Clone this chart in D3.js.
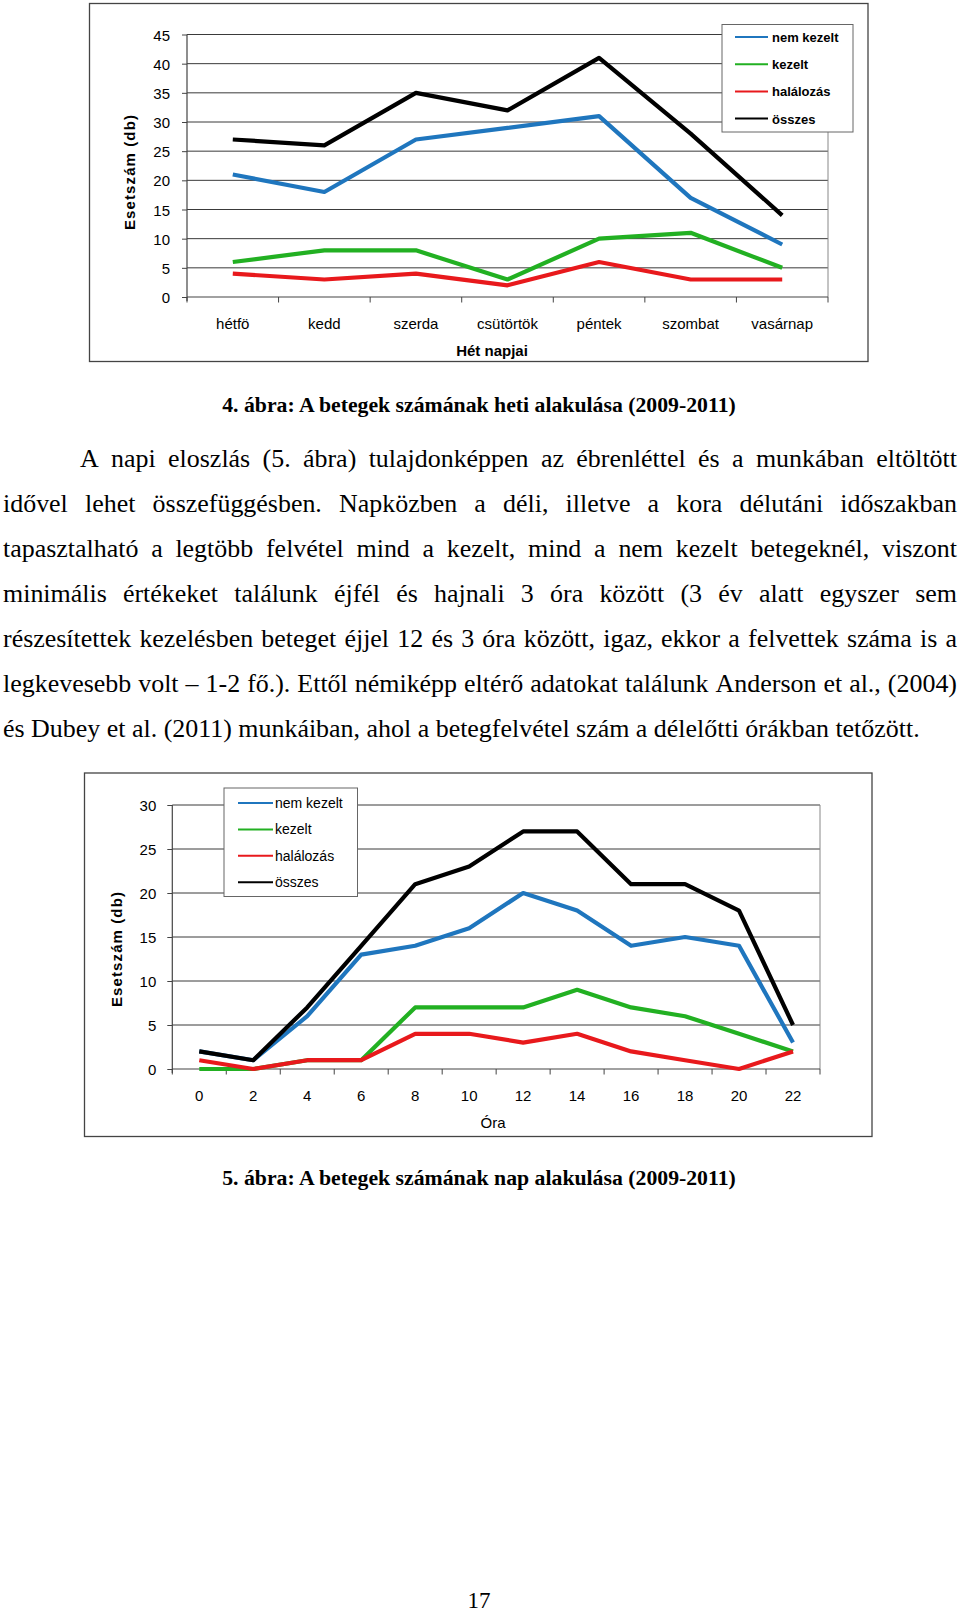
<!DOCTYPE html>
<html><head><meta charset="utf-8">
<script src="https://cdn.jsdelivr.net/npm/d3@7"></script>
<style>body{margin:0;background:#fff} svg{display:block}</style>
</head><body>
<svg id="page" width="960" height="1615"></svg>
<script>
// ---------- DATA ----------
const days = ["hétfö","kedd","szerda","csütörtök","péntek","szombat","vasárnap"];
const weekNemKezelt = [21,18,27,29,31,17,9];
const weekKezelt    = [6,8,8,3,10,11,5];
const weekHalalozas = [4,3,4,2,6,3,3];
const weekOsszes    = [27,26,35,32,41,28,14];
const weekYTicks    = [0,5,10,15,20,25,30,35,40,45];

const hours = ["0","2","4","6","8","10","12","14","16","18","20","22"];
const hourNemKezelt = [2,1,6,13,14,16,20,18,14,15,14,3];
const hourKezelt    = [0,0,1,1,7,7,7,9,7,6,4,2];
const hourHalalozas = [1,0,1,1,4,4,3,4,2,1,0,2];
const hourOsszes    = [2,1,7,14,21,23,27,27,21,21,18,5];
const hourYTicks    = [0,5,10,15,20,25,30];

const seriesNames = ["nem kezelt","kezelt","halálozás","összes"];
const seriesColors = ["#1f76be","#22b022","#e8191c","#000000"];

const caption1 = "4. ábra: A betegek számának heti alakulása (2009-2011)";
const caption2 = "5. ábra: A betegek számának nap alakulása (2009-2011)";
const bodyLines = [
  "A napi eloszlás (5. ábra) tulajdonképpen az ébrenléttel és a munkában eltöltött",
  "idővel lehet összefüggésben. Napközben a déli, illetve a kora délutáni időszakban",
  "tapasztalható a legtöbb felvétel mind a kezelt, mind a nem kezelt betegeknél, viszont",
  "minimális értékeket találunk éjfél és hajnali 3 óra között (3 év alatt egyszer sem",
  "részesítettek kezelésben beteget éjjel 12 és 3 óra között, igaz, ekkor a felvettek száma is a",
  "legkevesebb volt – 1-2 fő.). Ettől némiképp eltérő adatokat találunk Anderson et al., (2004)",
  "és Dubey et al. (2011) munkáiban, ahol a betegfelvétel szám a délelőtti órákban tetőzött."
];
const pageNumber = "17";

// ---------- DRAW ----------
const svg = d3.select("#page");
const SANS = "'Liberation Sans', Arial, sans-serif";
const SERIF = "'Liberation Serif', 'Times New Roman', serif";

function drawChart(c) {
  const g = svg.append("g");
  g.append("rect").attr("x", c.frame[0]).attr("y", c.frame[1])
    .attr("width", c.frame[2]-c.frame[0]).attr("height", c.frame[3]-c.frame[1])
    .attr("fill", "#fff").attr("stroke", "#444").attr("stroke-width", 1.3);

  const x = d3.scaleBand().domain(c.cats).range([c.x0, c.x1]);
  const y = d3.scaleLinear().domain([0, d3.max(c.yTicks)]).range([c.y0, c.y1]);

  // gridlines
  g.selectAll(".grid").data(c.yTicks.filter(v => v > 0)).join("line")
    .attr("x1", c.x0).attr("x2", c.x1).attr("y1", d => y(d)).attr("y2", d => y(d))
    .attr("stroke", "#3a3a3a").attr("stroke-width", 1);
  // right border of plot
  g.append("line").attr("x1", c.x1).attr("x2", c.x1).attr("y1", y(d3.max(c.yTicks))).attr("y2", c.y0)
    .attr("stroke", "#888").attr("stroke-width", 1);

  // y axis
  const ya = d3.axisLeft(y).tickValues(c.yTicks).tickSize(5).tickPadding(c.yPad);
  const yg = g.append("g").attr("transform", `translate(${c.x0},0)`).call(ya);
  yg.select(".domain").remove();
  yg.selectAll(".tick line").attr("stroke", "#444");
  yg.selectAll(".tick text").attr("font-family", SANS).attr("font-size", 15)
    .attr("fill", "#000").attr("dy", 5.5);
  g.append("line").attr("x1", c.x0).attr("x2", c.x0).attr("y1", y(d3.max(c.yTicks))).attr("y2", c.y0 + 4)
    .attr("stroke", "#444").attr("stroke-width", 1.2);

  // x axis
  g.append("line").attr("x1", c.x0).attr("x2", c.x1).attr("y1", c.y0).attr("y2", c.y0)
    .attr("stroke", "#444").attr("stroke-width", 1.2);
  const bounds = c.cats.map(d => x(d)).concat([x(c.cats[c.cats.length-1]) + x.bandwidth()]);
  g.selectAll(".xt").data(bounds).join("line")
    .attr("x1", d => d).attr("x2", d => d).attr("y1", c.y0).attr("y2", c.y0 + 5.5)
    .attr("stroke", "#444").attr("stroke-width", 1);
  g.selectAll(".xl").data(c.cats).join("text")
    .attr("x", d => x(d) + x.bandwidth()/2).attr("y", c.xLabelY)
    .attr("text-anchor", "middle").attr("font-family", SANS).attr("font-size", 15)
    .attr("fill", "#000").text(d => d);

  // axis titles
  g.append("text").attr("x", c.xTitle[0]).attr("y", c.xTitle[1]).attr("text-anchor", "middle")
    .attr("font-family", SANS).attr("font-size", 15).attr("font-weight", c.xTitleBold ? "bold" : "normal")
    .attr("fill", "#000").text(c.xTitleText);
  g.append("text").attr("transform", `translate(${c.yTitle[0]},${c.yTitle[1]}) rotate(-90)`)
    .attr("text-anchor", "middle").attr("font-family", SANS).attr("font-size", 15)
    .attr("font-weight", "bold").attr("letter-spacing", 1.1).attr("fill", "#000")
    .text("Esetszám (db)");

  // lines
  const line = d3.line().x((d, i) => x(c.cats[i]) + x.bandwidth()/2).y(d => y(d));
  c.series.forEach((s, i) => {
    g.append("path").attr("d", line(s)).attr("fill", "none")
      .attr("stroke", seriesColors[i]).attr("stroke-width", 4.2)
      .attr("stroke-linejoin", "round").attr("stroke-linecap", "butt");
  });

  // legend
  const L = c.legend;
  g.append("rect").attr("x", L.box[0]).attr("y", L.box[1]).attr("width", L.box[2]-L.box[0])
    .attr("height", L.box[3]-L.box[1]).attr("fill", "#fff").attr("stroke", "#666").attr("stroke-width", 1);
  seriesNames.forEach((n, i) => {
    const yy = L.y + i * L.step;
    g.append("line").attr("x1", L.lx0).attr("x2", L.lx1).attr("y1", yy).attr("y2", yy)
      .attr("stroke", seriesColors[i]).attr("stroke-width", 2);
    g.append("text").attr("x", L.tx).attr("y", yy + 5).attr("font-family", SANS)
      .attr("font-size", L.fs).attr("font-weight", L.bold ? "bold" : "normal").attr("fill", "#000").text(n);
  });
}

drawChart({
  frame: [89.5, 3.5, 868, 361.5],
  cats: days, x0: 187, x1: 828, y0: 297, y1: 34.5, yTicks: weekYTicks, yPad: 12,
  xLabelY: 329, xTitle: [492, 356], xTitleText: "Hét napjai", xTitleBold: true,
  yTitle: [135, 172],
  series: [weekNemKezelt, weekKezelt, weekHalalozas, weekOsszes],
  legend: {box: [722, 24.5, 853, 132], y: 37, step: 27.2, lx0: 735, lx1: 768, tx: 772, fs: 13, bold: true}
});

drawChart({
  frame: [84.5, 773, 872, 1136.5],
  cats: hours, x0: 172.3, x1: 820, y0: 1069, y1: 805, yTicks: hourYTicks, yPad: 11,
  xLabelY: 1100.5, xTitle: [493, 1128], xTitleText: "Óra", xTitleBold: false,
  yTitle: [122, 949],
  series: [hourNemKezelt, hourKezelt, hourHalalozas, hourOsszes],
  legend: {box: [224, 788, 357.5, 896.5], y: 803, step: 26.4, lx0: 238, lx1: 273, tx: 275, fs: 14, bold: false}
});

// ---------- TEXT ----------
function measure(text, size, weight) {
  const t = svg.append("text").attr("font-family", SERIF).attr("font-size", size)
    .attr("font-weight", weight).attr("xml:space", "preserve").text(text);
  const w = t.node().getComputedTextLength();
  t.remove();
  return w;
}

// captions: fit to measured width in reference
const capSize = 20 * 514 / measure(caption1, 20, "bold");
[[caption1, 412], [caption2, 1185]].forEach(([txt, yy]) => {
  svg.append("text").attr("x", 479).attr("y", yy).attr("text-anchor", "middle")
    .attr("font-family", SERIF).attr("font-weight", "bold").attr("font-size", capSize)
    .attr("fill", "#000").text(txt);
});

// body paragraph (justified)
const bodySize = 24 * 917 / measure(bodyLines[6], 24, "normal");
const left = 3, right = 957, indent = 80, base0 = 466.5, lh = 45.1;
bodyLines.forEach((ln, li) => {
  const words = ln.split(" ");
  const widths = words.map(w => measure(w, bodySize, "normal"));
  const xL = li === 0 ? indent : left;
  const total = d3.sum(widths);
  const justify = li < bodyLines.length - 1;
  const gap = justify ? (right - xL - total) / (words.length - 1) : measure("a a", bodySize, "normal") - 2 * measure("a", bodySize, "normal");
  let xx = xL;
  const yy = base0 + li * lh;
  words.forEach((w, i) => {
    svg.append("text").attr("x", xx).attr("y", yy).attr("font-family", SERIF)
      .attr("font-size", bodySize).attr("fill", "#000").text(w);
    xx += widths[i] + gap;
  });
});

svg.append("text").attr("x", 479).attr("y", 1608).attr("text-anchor", "middle")
  .attr("font-family", SERIF).attr("font-size", 23).attr("fill", "#000").text(pageNumber);
</script>
</body></html>
